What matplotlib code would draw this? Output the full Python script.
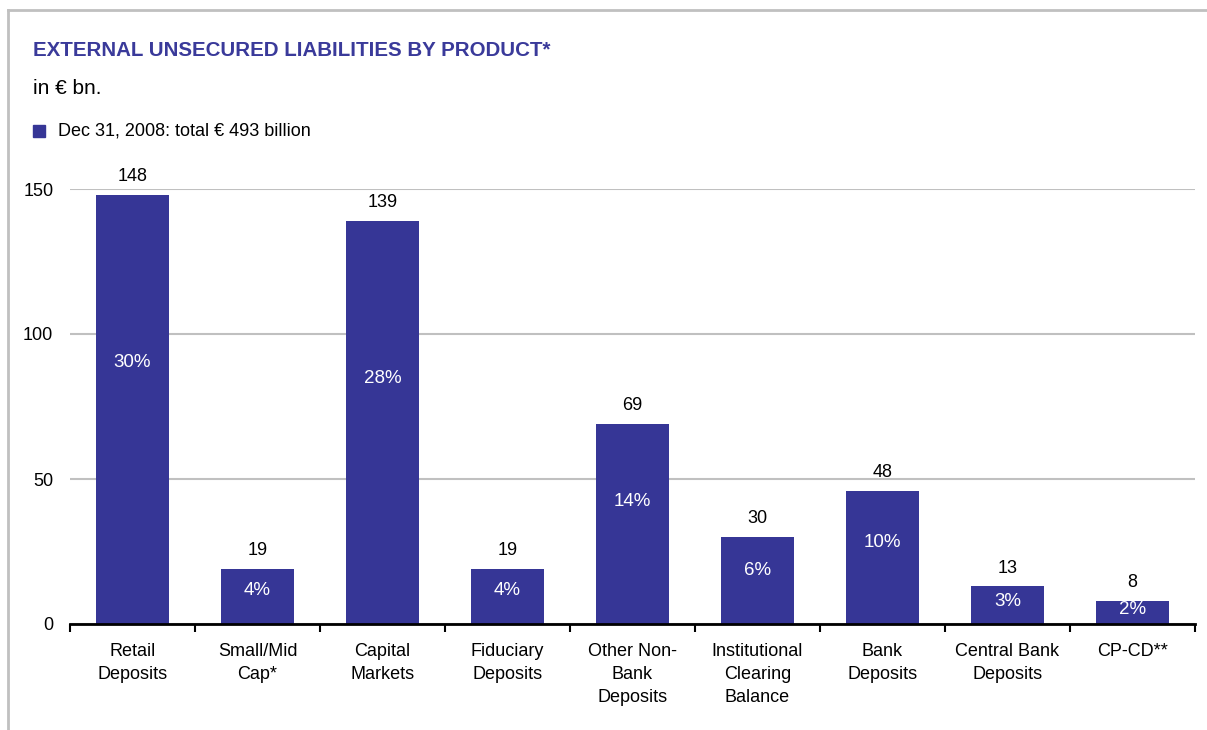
import numpy as np
import matplotlib.pyplot as plt
from matplotlib.patches import Rectangle
from matplotlib.lines import Line2D

plt.rcParams['font.family'] = ['Liberation Sans', 'DejaVu Sans']

# Datos
categorias = ['Retail\nDeposits', 'Small/Mid\nCap*', 'Capital\nMarkets', 'Fiduciary\nDeposits',
              'Other Non-\nBank\nDeposits', 'Institutional\nClearing\nBalance', 'Bank\nDeposits',
              'Central Bank\nDeposits', 'CP-CD**']
alturas = [148, 19, 139, 19, 69, 30, 46, 13, 8]
etiquetas_valor = ['148', '19', '139', '19', '69', '30', '48', '13', '8']
porcentajes = ['30%', '4%', '28%', '4%', '14%', '6%', '10%', '3%', '2%']
yticks = [0, 50, 100, 150]

color_barra = '#363696'

fig = plt.figure(figsize=(12.07, 7.30), dpi=100)
ax = fig.add_axes([70 / 1207, 1 - 624 / 730, 1125 / 1207, 435 / 730])

x = np.arange(len(categorias))
ax.bar(x, alturas, width=0.59, color=color_barra, zorder=3)

for xi, h, v, p in zip(x, alturas, etiquetas_valor, porcentajes):
    ax.annotate(v, (xi, h), xytext=(0, 13), textcoords='offset points',
                ha='center', va='center', fontsize=13, color='black', clip_on=False)
    ax.text(xi, h * 0.61, p, ha='center', va='center', fontsize=13.5, color='white', zorder=4)

ax.set_xlim(-0.5, len(categorias) - 0.5)
ax.set_ylim(0, 150)
ax.set_yticks(yticks)
ax.set_yticklabels([str(t) for t in yticks], fontsize=13)
ax.tick_params(axis='y', length=0, pad=12)
ax.yaxis.grid(True, color='#c0c0c0', linewidth=1.5, zorder=0)

ax.set_xticks(x)
ax.set_xticklabels(categorias, fontsize=13, linespacing=1.45)
ax.tick_params(axis='x', length=0, pad=14)
ax.set_xticks(np.arange(-0.5, len(categorias)), minor=True)
ax.tick_params(axis='x', which='minor', length=6, width=1.5, direction='out', color='black')

for lado in ['top', 'right', 'left']:
    ax.spines[lado].set_visible(False)
ax.spines['bottom'].set_linewidth(2)
ax.spines['bottom'].set_zorder(5)

# Marco gris de la figura
fig.add_artist(Line2D([8 / 1207, 1], [1 - 10 / 730, 1 - 10 / 730], color='#c0c0c0', linewidth=2))
fig.add_artist(Line2D([8 / 1207, 8 / 1207], [0, 1 - 10 / 730], color='#c0c0c0', linewidth=2))

fig.text(33 / 1207, 1 - 50 / 730, 'EXTERNAL UNSECURED LIABILITIES BY PRODUCT*',
         fontsize=14.8, fontweight='bold', color='#3a3a9a', va='center')
fig.text(33 / 1207, 1 - 88 / 730, 'in € bn.', fontsize=15, va='center')

fig.add_artist(Rectangle((33 / 1207, 1 - 137 / 730), 12 / 1207, 12 / 730,
                         color=color_barra, transform=fig.transFigure))
fig.text(58 / 1207, 1 - 131 / 730, 'Dec 31, 2008: total € 493 billion', fontsize=13, va='center')

fig.savefig('out.png', dpi=100)
